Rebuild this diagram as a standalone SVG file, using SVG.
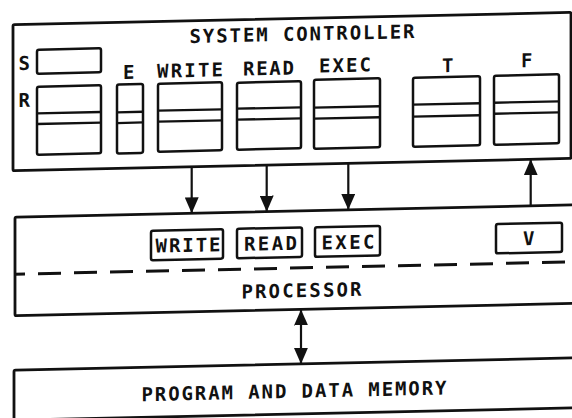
<svg xmlns="http://www.w3.org/2000/svg" width="572" height="418" viewBox="0 0 572 418">
  <style>
    .frame { fill: none; stroke: #111; stroke-width: 2.8; stroke-linejoin: round; }
    .reg { fill: none; stroke: #111; stroke-width: 2.5; stroke-linejoin: round; }
    .div { stroke: #111; stroke-width: 2.3; }
    .dash { stroke: #111; stroke-width: 3; stroke-dasharray: 23 13; stroke-dashoffset: 13; }
    .wire { fill: none; stroke: #111; stroke-width: 2.2; }
    text { font-family: "DejaVu Sans Mono", "Liberation Mono", monospace; font-weight: bold; font-size: 19px; fill: #111; }
  </style>
  <defs>
    <marker id="head" markerUnits="userSpaceOnUse" markerWidth="16" markerHeight="14" refX="16" refY="7" orient="auto-start-reverse">
      <path d="M0,0 L16,7 L0,14 z" fill="#111"/>
    </marker>
  </defs>
  <rect width="572" height="418" fill="#fff"/>
  <g id="diagram" transform="skewY(-1.26)">
    <g id="system-controller">
      <rect class="frame" x="13" y="25" width="558" height="146" rx="1.5"/>
      <text x="189.5" y="47.2" textLength="225" lengthAdjust="spacing">SYSTEM CONTROLLER</text>
      <g id="reg-s">
        <text x="18.5" y="70.5">S</text>
        <rect class="reg" x="37" y="50.5" width="64" height="24" rx="2"/>
      </g>
      <g id="reg-r">
        <text x="18.5" y="107.5">R</text>
        <rect class="reg" x="37" y="87.5" width="64" height="68" rx="2"/>
        <path class="div" d="M37,114.2 H101 M37,124.8 H101"/>
      </g>
      <g id="reg-e">
        <text x="123" y="81.8">E</text>
        <rect class="reg" x="117" y="87" width="26" height="69" rx="2"/>
        <path class="div" d="M117,114.9 H143 M117,125.6 H143"/>
      </g>
      <g id="reg-write">
        <text x="157" y="81.2" textLength="66" lengthAdjust="spacing">WRITE</text>
        <rect class="reg" x="158" y="87.2" width="64" height="68" rx="2"/>
        <path class="div" d="M158,114.2 H222 M158,125.2 H222"/>
      </g>
      <g id="reg-read">
        <text x="243" y="80.9" textLength="51" lengthAdjust="spacing">READ</text>
        <rect class="reg" x="237" y="87.9" width="64" height="67" rx="2"/>
        <path class="div" d="M237,113.9 H301 M237,124.9 H301"/>
      </g>
      <g id="reg-exec">
        <text x="319" y="79.5" textLength="52" lengthAdjust="spacing">EXEC</text>
        <rect class="reg" x="314" y="86.6" width="66" height="69" rx="2"/>
        <path class="div" d="M314,114.6 H380 M314,125.6 H380"/>
      </g>
      <g id="reg-t">
        <text x="442" y="81.9">T</text>
        <rect class="reg" x="413" y="86.8" width="67" height="69" rx="2"/>
        <path class="div" d="M413,113.8 H480 M413,125.8 H480"/>
      </g>
      <g id="reg-f">
        <text x="521" y="78.6">F</text>
        <rect class="reg" x="494" y="86.6" width="65" height="69" rx="2"/>
        <path class="div" d="M494,113.6 H559 M494,124.6 H559"/>
      </g>
    </g>
    <g id="processor">
      <rect class="frame" x="15" y="217.5" width="575" height="98.5" rx="1.5"/>
      <line class="dash" x1="15" y1="274.5" x2="590" y2="274.5"/>
      <g id="proc-write">
        <rect class="reg" x="151" y="234" width="72" height="29.5" rx="2"/>
        <text x="155.5" y="256" textLength="65" lengthAdjust="spacing">WRITE</text>
      </g>
      <g id="proc-read">
        <rect class="reg" x="237" y="234" width="65" height="29.5" rx="2"/>
        <text x="244" y="256.2" textLength="53" lengthAdjust="spacing">READ</text>
      </g>
      <g id="proc-exec">
        <rect class="reg" x="315" y="234.3" width="65" height="29.5" rx="2"/>
        <text x="321.5" y="256.7" textLength="53" lengthAdjust="spacing">EXEC</text>
      </g>
      <g id="proc-v">
        <rect class="reg" x="496" y="235" width="66" height="29.3" rx="2"/>
        <text x="523" y="256.7">V</text>
      </g>
      <text x="241.5" y="303.8" textLength="120" lengthAdjust="spacing">PROCESSOR</text>
    </g>
    <g id="memory">
      <rect class="frame" x="14" y="370.5" width="576" height="50" rx="1.5"/>
      <text x="141.5" y="404.3" textLength="305" lengthAdjust="spacing">PROGRAM AND DATA MEMORY</text>
    </g>
    <g id="connectors">
      <path class="wire" d="M191.7,171 V217.5" marker-end="url(#head)"/>
      <path class="wire" d="M266.7,171 V217.5" marker-end="url(#head)"/>
      <path class="wire" d="M348.3,171 V217.5" marker-end="url(#head)"/>
      <path class="wire" d="M530.7,217.5 V171" marker-end="url(#head)"/>
      <path class="wire" d="M301,316 V370.5" marker-start="url(#head)" marker-end="url(#head)"/>
    </g>
  </g>
</svg>
